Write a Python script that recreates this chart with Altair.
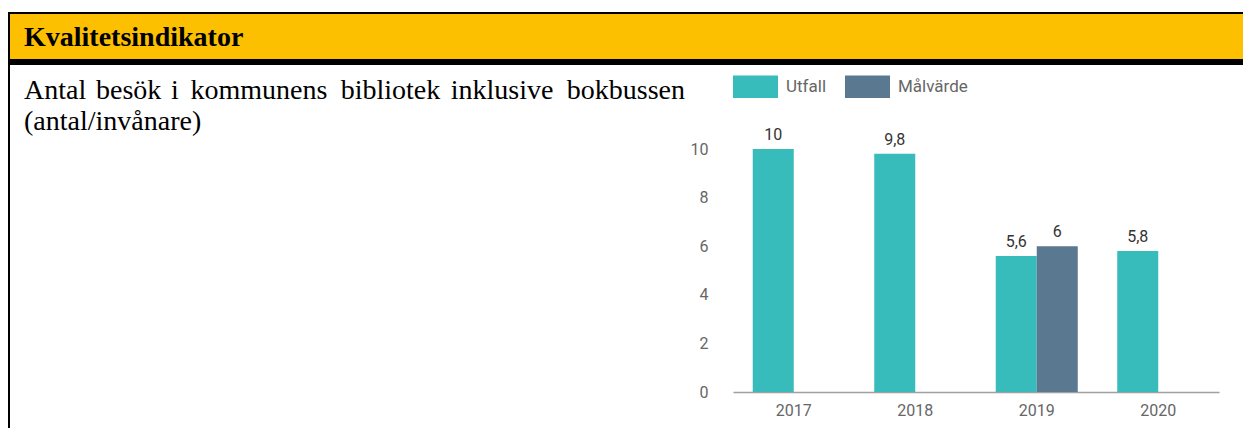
import altair as alt
import pandas as pd

# ---------------- data ----------------
YEARS = ["2017", "2018", "2019", "2020"]
SERIES = ["Utfall", "Målvärde"]
UTFALL = [10, 9.8, 5.6, 5.8]
MALVARDE = [None, None, 6, None]
Y_TICKS = [0, 2, 4, 6, 8, 10]
HEADER = "Kvalitetsindikator"
BODY_LINE1 = ["Antal", "besök", "i", "kommunens", "bibliotek", "inklusive", "bokbussen"]
BODY_LINE2 = "(antal/invånare)"

# ---------------- styles / layout ----------------
COLORS = ["#37BBBB", "#5B7891"]
YELLOW = "#FCC000"
SERIF = "Liberation Serif"
SANS = "Roboto"
W, H = 486, 243
PAD = {"left": 725, "top": 141, "right": 24, "bottom": 36}
# word anchors (plot-relative px) for the justified first line
WORD_X = [-709, -604.3, -558, -474, -342.6, -231, -48]
WORD_ALIGN = ["left", "center", "center", "center", "center", "center", "right"]


def fmt(v):
    return ("%g" % v).replace(".", ",")


rows = []
for yr, u, m in zip(YEARS, UTFALL, MALVARDE):
    for s, v in ((SERIES[0], u), (SERIES[1], m)):
        if v is not None:
            rows.append({"year": yr, "serie": s, "value": v, "label": fmt(v)})
df = pd.DataFrame(rows)
one = pd.DataFrame({"k": [0]})


def rect(x, x2, y, y2, color):
    return alt.Chart(one).mark_rect(color=color).encode(
        x=alt.value(x), x2=alt.value(x2), y=alt.value(y), y2=alt.value(y2)
    )


def text(t, x, y, size, align="left", weight="normal"):
    return alt.Chart(one).mark_text(
        align=align, baseline="alphabetic", font=SERIF, fontSize=size,
        fontWeight=weight, color="#000000"
    ).encode(x=alt.value(x), y=alt.value(y), text=alt.value(t))


decor = [
    rect(-723, 520, -135, -90, YELLOW),
    rect(-725, 520, -137, -135, "#000000"),
    rect(-725, 520, -90, -84, "#000000"),
    rect(-725, -723, -137, 300, "#000000"),
    text(HEADER, -709, -103, 28, weight="bold"),
]
for w, x, a in zip(BODY_LINE1, WORD_X, WORD_ALIGN):
    decor.append(text(w, x, -50, 28, align=a))
decor.append(text(BODY_LINE2, -709, -19, 28))

x_scale = alt.Scale(domain=YEARS, paddingInner=0.325, paddingOuter=0.1625)
off_scale = alt.Scale(domain=SERIES, paddingInner=0, paddingOuter=0)
y_scale = alt.Scale(domain=[0, 10], nice=False, zero=True)

base = alt.Chart(df)
bars = base.mark_bar().encode(
    x=alt.X("year:N", sort=YEARS, scale=x_scale,
            axis=alt.Axis(title=None, labelAngle=0, ticks=False, tickSize=0,
                          labelPadding=10, domainColor="#a0a0a0", domainWidth=1.5,
                          labelFont=SANS, labelFontSize=16, labelColor="#666666")),
    xOffset=alt.XOffset("serie:N", sort=SERIES, scale=off_scale),
    y=alt.Y("value:Q", scale=y_scale,
            axis=alt.Axis(title=None, values=Y_TICKS, domain=False, ticks=False,
                          tickSize=0, grid=False, labelPadding=25,
                          labelFont=SANS, labelFontSize=16, labelColor="#666666")),
    color=alt.Color("serie:N", sort=SERIES,
                    scale=alt.Scale(domain=SERIES, range=COLORS),
                    legend=alt.Legend(title=None, orient="none", legendX=0, legendY=-85,
                                      direction="horizontal",
                                      symbolType="M-1,-0.5H1V0.5H-1Z", symbolSize=2025,
                                      symbolStrokeWidth=0, symbolOpacity=1,
                                      labelFont=SANS, labelFontSize=17,
                                      labelColor="#666666", labelOffset=8,
                                      columnPadding=18, padding=0)),
)
labels = base.mark_text(dy=-9, baseline="alphabetic", font=SANS, fontSize=16,
                        color="#333333").encode(
    x=alt.X("year:N", sort=YEARS, scale=x_scale),
    xOffset=alt.XOffset("serie:N", sort=SERIES, scale=off_scale),
    y=alt.Y("value:Q", scale=y_scale),
    text="label:N",
)

chart = alt.layer(*decor, bars, labels).properties(
    width=W, height=H,
    autosize=alt.AutoSizeParams(type="none"),
    padding=PAD,
).configure_view(stroke=None)

chart.save("out.html", embed_options={"renderer": "svg", "actions": False})
